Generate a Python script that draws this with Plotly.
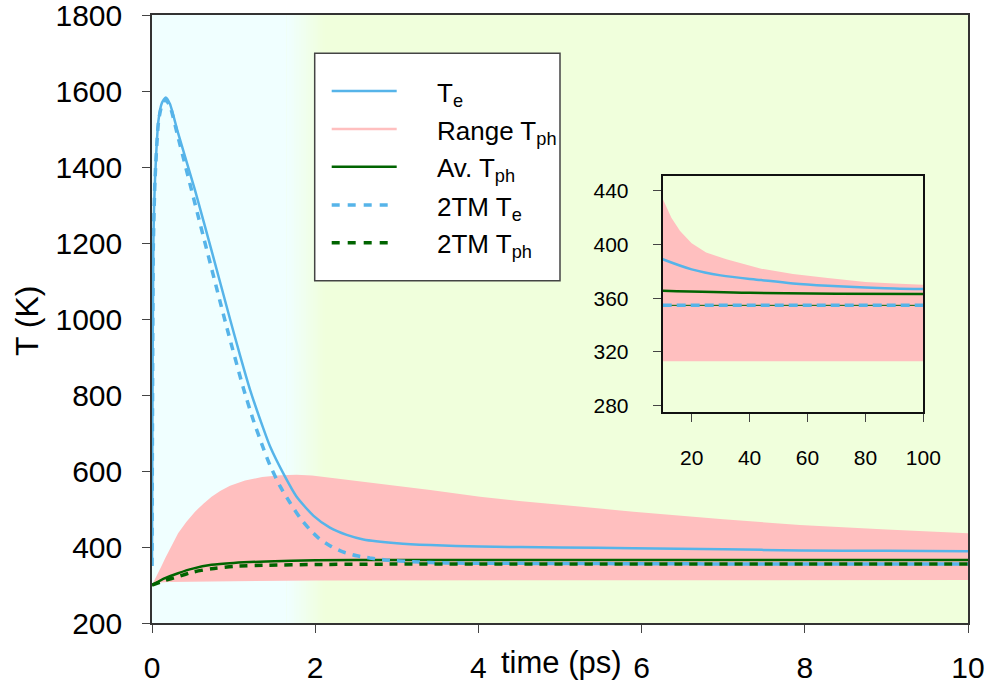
import plotly.graph_objects as go

# ---------------- main panel data (time in ps, temperature in K) ----------------
te_t = [0, 0.005, 0.016, 0.037, 0.08, 0.12, 0.168, 0.22, 0.32, 0.527, 0.73, 0.956, 1.078, 1.2,
        1.364, 1.446, 1.63, 1.77, 1.98, 2.18, 2.386, 2.59, 3.0, 3.41, 4.02, 5.0, 5.9, 7.0, 7.94, 9.0, 10]
te_v = [350, 700, 1190, 1366, 1524, 1568, 1583, 1566, 1489, 1339, 1180, 1000, 905, 815,
        712, 665, 585, 533, 482, 451, 432, 420, 410, 405, 401, 399, 397, 394, 391, 390, 389]

tm_te_t = [0, 0.005, 0.016, 0.037, 0.08, 0.12, 0.165, 0.22, 0.32, 0.588, 0.92, 1.12, 1.24, 1.364,
           1.446, 1.569, 1.69, 1.81, 1.93, 2.05, 2.2, 2.34, 2.51, 2.67, 2.86, 3.2, 3.6, 4.5, 6, 8, 10]
tm_te_v = [350, 700, 1190, 1366, 1520, 1562, 1577, 1560, 1478, 1252, 975, 818, 735, 660,
           615, 560, 517, 478, 447, 422, 401, 387, 377, 371, 366, 361, 358, 357, 356, 355, 355]

av_t = [0, 0.16, 0.32, 0.5, 0.73, 1.0, 1.4, 2.0, 3, 4, 6, 8, 10]
av_v = [300, 318, 331, 343, 353, 358, 362, 365, 366, 366, 366, 365.5, 365.5]

tm_ph_t = [0, 0.16, 0.32, 0.5, 0.73, 1.0, 1.4, 2.0, 3, 4, 6, 8, 10]
tm_ph_v = [300, 312, 322, 334, 343, 349, 352, 354, 355, 355, 355, 355, 355]

rng_up_t = [0, 0.04, 0.08, 0.12, 0.16, 0.24, 0.32, 0.42, 0.527, 0.63, 0.73, 0.84, 0.956, 1.14, 1.35,
            1.57, 1.77, 1.96, 2.2, 2.59, 3.0, 3.41, 4.02, 4.5, 5.2, 5.9, 7.0, 7.94, 9.0, 10]
rng_up_v = [300, 316, 333, 351, 370, 405, 436, 466, 493, 514, 532, 548, 561, 575, 584,
            589, 590, 588, 582, 572, 561, 550, 532, 521, 507, 493, 473, 458, 446, 436]
rng_lo_t = [0, 0.05, 0.2, 0.5, 1, 2, 4, 6, 8, 10]
rng_lo_v = [300, 306, 308, 309, 310, 312, 313, 313, 313, 313]

# ---------------- inset data (time in ps, 10..100) ----------------
in_up_t = [10, 13, 16, 20, 25, 32, 44, 55, 67, 80, 90, 100]
in_up_v = [434, 420, 410, 401, 394, 389, 382, 378, 375, 372, 371, 370]
in_lo_t = [10, 100]
in_lo_v = [313, 313]
in_te_t = [10, 20, 30, 44, 55, 67, 80, 90, 100]
in_te_v = [389, 381.5, 377, 373.5, 371, 369.3, 368, 367.3, 366.9]
in_av_t = [10, 40, 70, 100]
in_av_v = [365.6, 364, 363.4, 363.1]
in_tmte_t = [10, 100]
in_tmte_v = [354.7, 354.7]
in_tmph_t = [10, 100]
in_tmph_v = [354.7, 354.7]

# ---------------- ticks / labels ----------------
x_ticks = [0, 2, 4, 6, 8, 10]
y_ticks = [200, 400, 600, 800, 1000, 1200, 1400, 1600, 1800]
in_x_ticks = [20, 40, 60, 80, 100]
in_y_ticks = [280, 320, 360, 400, 440]
legend_labels = ["T<sub>e</sub>", "Range T<sub>ph</sub>", "Av. T<sub>ph</sub>",
                 "2TM T<sub>e</sub>", "2TM T<sub>ph</sub>"]
x_title = "time (ps)"
y_title = "T (K)"

# ---------------- styles ----------------
BLUE = "#56B4E9"
PINK = "#FFBFBF"
GREEN = "#006400"
BG_GREEN = (240, 255, 220)
BG_CYAN = (240, 255, 255)
FONT = "Liberation Sans, Arial, Helvetica, sans-serif"
DASH = "8px,7px"

W, H = 995, 685
L, R, T, B = 152, 27, 15, 62
PW, PH = W - L - R, H - T - B


def px(xp):
    return (xp - L) / PW


def py(yp):
    return (H - B - yp) / PH


fig = go.Figure()

# main traces
fig.add_trace(go.Scatter(x=rng_up_t + rng_lo_t[::-1], y=rng_up_v + rng_lo_v[::-1],
                         fill="toself", fillcolor=PINK, line=dict(width=0),
                         mode="lines", showlegend=False, hoverinfo="skip", xaxis="x", yaxis="y"))
fig.add_trace(go.Scatter(x=te_t, y=te_v, mode="lines", line=dict(color=BLUE, width=2.5, shape="spline", smoothing=0.6),
                         showlegend=False, xaxis="x", yaxis="y"))
fig.add_trace(go.Scatter(x=av_t, y=av_v, mode="lines", line=dict(color=GREEN, width=2.5, shape="spline", smoothing=0.6),
                         showlegend=False, xaxis="x", yaxis="y"))
fig.add_trace(go.Scatter(x=tm_te_t, y=tm_te_v, mode="lines",
                         line=dict(color=BLUE, width=3.5, dash=DASH, shape="spline", smoothing=0.6),
                         showlegend=False, xaxis="x", yaxis="y"))
fig.add_trace(go.Scatter(x=tm_ph_t, y=tm_ph_v, mode="lines",
                         line=dict(color=GREEN, width=3.5, dash=DASH, shape="spline", smoothing=0.6),
                         showlegend=False, xaxis="x", yaxis="y"))

# inset traces
fig.add_trace(go.Scatter(x=in_up_t + in_lo_t[::-1], y=in_up_v + in_lo_v[::-1],
                         fill="toself", fillcolor=PINK, line=dict(width=0), mode="lines",
                         showlegend=False, hoverinfo="skip", xaxis="x2", yaxis="y2"))
fig.add_trace(go.Scatter(x=in_te_t, y=in_te_v, mode="lines", line=dict(color=BLUE, width=2.5, shape="spline"),
                         showlegend=False, xaxis="x2", yaxis="y2"))
fig.add_trace(go.Scatter(x=in_av_t, y=in_av_v, mode="lines", line=dict(color=GREEN, width=2.5, shape="spline"),
                         showlegend=False, xaxis="x2", yaxis="y2"))
fig.add_trace(go.Scatter(x=in_tmph_t, y=in_tmph_v, mode="lines", line=dict(color=GREEN, width=1),
                         showlegend=False, xaxis="x2", yaxis="y2"))
fig.add_trace(go.Scatter(x=in_tmte_t, y=in_tmte_v, mode="lines", line=dict(color=BLUE, width=3.5, dash="9px,5px"),
                         showlegend=False, xaxis="x2", yaxis="y2"))

shapes = []
# background: cyan region, gradient into green around 2 ps
g0, g1, nsteps = 1.65, 2.12, 16
shapes.append(dict(type="rect", xref="x", yref="y domain", x0=0, x1=g0, y0=0, y1=1,
                   fillcolor="rgb(%d,%d,%d)" % BG_CYAN, line=dict(width=0), layer="below"))
for i in range(nsteps):
    f = (i + 0.5) / nsteps
    c = tuple(round(BG_CYAN[k] + (BG_GREEN[k] - BG_CYAN[k]) * f) for k in range(3))
    shapes.append(dict(type="rect", xref="x", yref="y domain",
                       x0=g0 + (g1 - g0) * i / nsteps, x1=g0 + (g1 - g0) * (i + 1) / nsteps + 0.01,
                       y0=0, y1=1, fillcolor="rgb(%d,%d,%d)" % c, line=dict(width=0), layer="below"))
# thin cyan strip at left of inset
shapes.append(dict(type="rect", xref="x2", yref="y2 domain", x0=10, x1=11.8, y0=0, y1=1,
                   fillcolor="rgb(%d,%d,%d)" % BG_CYAN, line=dict(width=0), layer="below"))

# legend box
shapes.append(dict(type="rect", xref="paper", yref="paper", x0=px(314.7), x1=px(560), y0=py(280.7), y1=py(53.3),
                   fillcolor="white", line=dict(color="#444", width=1.5), layer="above"))
leg_y = [91, 129, 166.7, 205, 242.7]
leg_style = [(BLUE, 2.5, "solid"), (PINK, 2.5, "solid"), (GREEN, 2.5, "solid"),
             (BLUE, 3.5, "8px,8px"), (GREEN, 3.5, "8px,8px")]
annotations = []
for lab, yy, (col, wd, ds) in zip(legend_labels, leg_y, leg_style):
    x1 = 396.7 if ds == "solid" else 391
    shapes.append(dict(type="line", xref="paper", yref="paper", x0=px(331.7), x1=px(x1), y0=py(yy), y1=py(yy),
                       line=dict(color=col, width=wd, dash=ds), layer="above"))
    annotations.append(dict(text=lab, xref="paper", yref="paper", x=px(435), y=py(yy + 3),
                            xanchor="left", yanchor="middle", showarrow=False,
                            font=dict(family=FONT, size=26, color="black")))

annotations.append(dict(text=y_title, xref="paper", yref="paper", x=px(27), y=py(320), textangle=-90,
                        xanchor="center", yanchor="middle", showarrow=False,
                        font=dict(family=FONT, size=32, color="black")))
annotations.append(dict(text=x_title, xref="paper", yref="paper", x=px(561), y=py(662),
                        xanchor="center", yanchor="middle", showarrow=False,
                        font=dict(family=FONT, size=31, color="black")))

axis_common = dict(showgrid=False, zeroline=False, showline=True, mirror=True,
                   ticks="outside", ticklen=8, tickwidth=1.2, tickcolor="#444",
                   ticklabeloverflow="allow", automargin=False)

fig.update_layout(
    width=W, height=H, autosize=False,
    margin=dict(l=L, r=R, t=T, b=B, pad=0, autoexpand=False),
    paper_bgcolor="white",
    plot_bgcolor="rgb(%d,%d,%d)" % BG_GREEN,
    showlegend=False,
    font=dict(family=FONT, color="black"),
    xaxis=dict(range=[0, 10], tickvals=x_ticks, domain=[0, 1], linecolor="#333", linewidth=1.5,
               tickfont=dict(size=30), ticklabelstandoff=9, **axis_common),
    yaxis=dict(range=[200, 1800], tickvals=y_ticks, domain=[0, 1], linecolor="#333", linewidth=1.5,
               tickfont=dict(size=30), ticklabelstandoff=14, **axis_common),
    xaxis2=dict(range=[10, 100], tickvals=in_x_ticks, anchor="y2", domain=[px(662.7), px(923.3)],
                linecolor="#111", linewidth=2, tickfont=dict(size=21), ticklabelstandoff=18, **axis_common),
    yaxis2=dict(range=[275.5, 451], tickvals=in_y_ticks, anchor="x2", domain=[py(411.7), py(176)],
                linecolor="#111", linewidth=2, tickfont=dict(size=21), ticklabelstandoff=20, **axis_common),
    shapes=shapes,
    annotations=annotations,
)

fig.write_html("out.html")
